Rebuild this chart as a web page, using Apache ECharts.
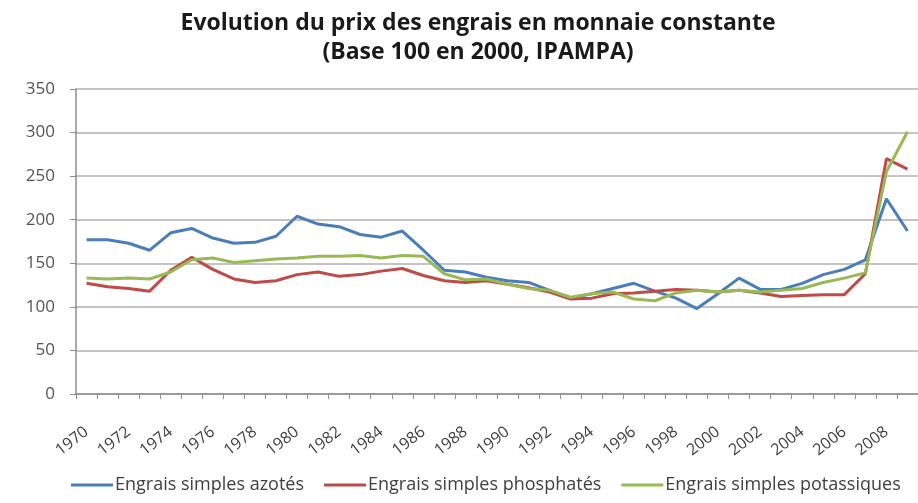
<!DOCTYPE html>
<html>
<head>
<meta charset="utf-8">
<script src="https://cdn.jsdelivr.net/npm/echarts@6/dist/echarts.min.js"></script>
<style>
html,body{margin:0;padding:0;background:#fff;}
#chart{width:918px;height:503px;}
</style>
</head>
<body>
<div id="chart"></div>
<script>
var years = ['1970','1971','1972','1973','1974','1975','1976','1977','1978','1979',
  '1980','1981','1982','1983','1984','1985','1986','1987','1988','1989',
  '1990','1991','1992','1993','1994','1995','1996','1997','1998','1999',
  '2000','2001','2002','2003','2004','2005','2006','2007','2008','2009'];

var azotes = [177,177,173,165,185,190,179,173,174,181,
  204,195,192,183,180,187,165,142,140,134,
  130,128,119,110,115,121,127,118,110,98,
  115,133,120,120,127,137,143,154,224,187];

var phosphates = [127,123,121,118,142,157,143,132,128,130,
  137,140,135,137,141,144,136,130,128,130,
  126,122,117,109,110,115,116,118,120,119,
  117,119,116,112,113,114,114,138,270,258];

var potassiques = [133,132,133,132,140,154,156,151,153,155,
  156,158,158,159,156,159,158,138,131,132,
  126,121,119,111,115,117,109,107,116,119,
  117,119,117,119,121,128,133,139,255,301];

var yTicks = { min: 0, max: 350, interval: 50 };

var chart = echarts.init(document.getElementById('chart'), null, {renderer: 'canvas'});
var fontFam = '"Open Sans", sans-serif';
var lw = 3;
chart.setOption({
  animation: false,
  backgroundColor: '#ffffff',
  title: {
    text: 'Evolution du prix des engrais en monnaie constante\n(Base 100 en 2000, IPAMPA)',
    left: 473,
    top: 4,
    textAlign: 'center',
    textStyle: {
      fontFamily: fontFam,
      fontSize: 23,
      fontWeight: 'bold',
      color: '#1a1a1a',
      lineHeight: 29
    }
  },
  legend: {
    bottom: 4,
    left: 66,
    itemWidth: 42,
    itemHeight: 3,
    itemGap: 20,
    icon: 'rect',
    textStyle: { fontFamily: fontFam, fontSize: 18, color: '#404040', padding: [0,0,0,-3] },
    data: ['Engrais simples azotés', 'Engrais simples phosphatés', 'Engrais simples potassiques']
  },
  grid: { left: 76, top: 89, height: 305, width: 850, containLabel: false },
  xAxis: {
    type: 'category',
    data: years,
    boundaryGap: true,
    axisLine: { lineStyle: { color: '#8c8c8c', width: 1.5 } },
    axisTick: { show: true, interval: 0, length: 5, lineStyle: { color: '#8c8c8c' } },
    axisLabel: {
      interval: 1,
      rotate: 38,
      margin: 36,
      fontFamily: fontFam,
      fontSize: 16,
      color: '#404040'
    },
    splitLine: { show: false }
  },
  yAxis: {
    type: 'value',
    min: yTicks.min,
    max: yTicks.max,
    interval: yTicks.interval,
    axisLine: { show: true, lineStyle: { color: '#8c8c8c', width: 1.5 } },
    axisTick: { show: true, length: 6, lineStyle: { color: '#8c8c8c' } },
    axisLabel: { fontFamily: fontFam, fontSize: 17, color: '#555', margin: 21 },
    splitLine: { lineStyle: { color: '#b0b0b0', width: 1.5 } }
  },
  series: [
    { name: 'Engrais simples azotés', type: 'line', data: azotes, symbol: 'none',
      itemStyle: { color: '#4a7ebb' }, lineStyle: { width: lw, color: '#4a7ebb' } },
    { name: 'Engrais simples phosphatés', type: 'line', data: phosphates, symbol: 'none',
      itemStyle: { color: '#be4b48' }, lineStyle: { width: lw, color: '#be4b48' } },
    { name: 'Engrais simples potassiques', type: 'line', data: potassiques, symbol: 'none',
      itemStyle: { color: '#98b954' }, lineStyle: { width: lw, color: '#98b954' } }
  ]
});
</script>
</body>
</html>
